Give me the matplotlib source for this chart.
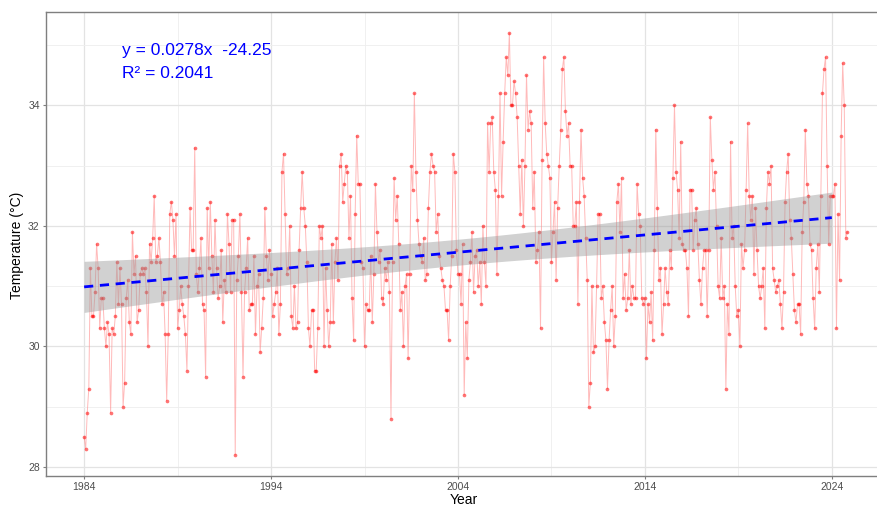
import matplotlib.pyplot as plt
import numpy as np

plt.rcParams['font.family'] = ['Liberation Sans', 'DejaVu Sans']

# monthly temperature, Jan 1984 onwards
temp_1984_1988 = [28.5, 28.3, 28.9, 29.3, 31.3, 30.5, 30.5, 30.9, 31.7, 31.3, 30.3, 30.8,
                  30.8, 30.3, 30.0, 30.4, 30.2, 28.9, 30.3, 30.2, 30.5, 31.4, 30.7, 31.3,
                  30.7, 29.0, 29.4, 30.8, 31.1, 30.4, 30.2, 31.9, 31.2, 31.5, 30.4, 30.6,
                  31.2, 31.3, 31.2, 31.3, 30.9, 30.0, 31.7, 31.4, 31.8, 32.5, 31.4, 31.5,
                  31.8, 31.4, 30.7, 30.9, 30.2, 29.1, 30.2, 32.2, 32.4, 32.1, 31.5, 32.2]
temp_1989_1993 = [30.3, 30.6, 31.0, 30.7, 30.5, 30.2, 29.6, 31.0, 32.3, 31.6, 31.6, 33.3,
                  31.2, 30.9, 31.3, 31.8, 30.7, 30.6, 29.5, 32.3, 31.3, 32.4, 31.5, 30.9,
                  32.1, 31.3, 30.8, 31.0, 31.6, 30.4, 31.1, 30.9, 32.2, 31.7, 30.9, 32.1,
                  32.1, 28.2, 31.1, 31.5, 32.2, 30.9, 29.5, 30.9, 31.3, 31.8, 30.6, 30.7,
                  30.7, 31.5, 30.2, 31.0, 31.2, 29.9, 30.3, 30.8, 32.3, 31.5, 31.1, 31.6]
temp_1994_1998 = [31.2, 30.5, 30.7, 30.9, 31.3, 30.2, 30.7, 32.9, 33.2, 32.2, 31.2, 31.3,
                  32.0, 30.5, 30.3, 31.0, 30.3, 30.4, 31.6, 32.3, 32.9, 32.3, 32.0, 31.4,
                  30.3, 30.0, 30.6, 30.6, 29.6, 29.6, 30.3, 32.0, 31.8, 32.0, 30.0, 31.3,
                  30.6, 30.0, 30.4, 31.7, 30.4, 31.4, 31.8, 31.1, 33.0, 33.2, 32.4, 32.7,
                  33.0, 32.9, 31.8, 32.5, 30.8, 30.1, 32.2, 33.5, 32.7, 32.7, 31.4, 31.3]
temp_1999_2003 = [30.0, 30.7, 30.6, 30.6, 31.5, 30.4, 31.2, 32.7, 31.9, 31.4, 31.6, 30.8,
                  30.7, 31.3, 31.1, 31.4, 30.9, 28.8, 31.4, 32.8, 32.1, 32.5, 31.7, 30.6,
                  30.9, 30.0, 31.0, 31.2, 29.8, 31.2, 33.0, 32.6, 34.2, 32.9, 32.1, 31.7,
                  31.5, 31.4, 31.8, 31.1, 31.2, 32.3, 32.9, 33.2, 33.0, 32.9, 31.9, 32.2,
                  31.5, 31.3, 31.1, 31.0, 30.6, 30.6, 30.1, 31.0, 31.5, 33.2, 32.9, 31.6]
temp_2004_2008 = [31.2, 31.2, 30.7, 31.7, 29.2, 30.4, 29.8, 31.1, 31.4, 31.9, 30.9, 31.5,
                  31.6, 31.0, 31.4, 30.7, 32.0, 31.4, 31.0, 33.7, 32.9, 33.7, 33.8, 32.9,
                  32.6, 31.2, 32.5, 34.2, 32.5, 33.4, 34.2, 34.8, 34.5, 35.2, 34.0, 34.0,
                  34.4, 34.2, 33.8, 33.0, 32.2, 33.1, 32.0, 33.0, 34.5, 33.6, 33.9, 33.7,
                  32.3, 32.9, 31.4, 31.6, 31.9, 30.3, 33.1, 34.8, 33.7, 33.2, 33.0, 32.8]
temp_2009_2013 = [31.4, 31.9, 32.4, 31.1, 32.3, 33.0, 33.6, 34.6, 34.8, 33.9, 33.5, 33.7,
                  33.0, 33.0, 32.0, 32.0, 32.4, 30.7, 32.4, 33.6, 32.8, 32.5, 31.8, 31.1,
                  29.0, 29.4, 31.0, 29.9, 30.0, 31.0, 32.2, 32.2, 30.8, 31.0, 30.4, 30.1,
                  29.3, 30.1, 30.6, 31.0, 30.0, 30.5, 32.4, 32.7, 31.9, 32.8, 30.8, 31.2,
                  30.6, 30.8, 31.6, 30.7, 31.0, 30.8, 30.8, 32.7, 32.2, 32.0, 30.8, 30.7]
temp_2014_2018 = [30.8, 29.8, 30.7, 30.4, 30.9, 30.1, 31.6, 33.6, 32.3, 31.1, 31.3, 30.2,
                  30.7, 31.3, 30.9, 30.7, 31.6, 31.3, 32.8, 34.0, 32.9, 32.6, 31.8, 33.4,
                  31.7, 31.6, 31.6, 31.3, 30.5, 32.6, 32.6, 31.6, 32.1, 32.3, 31.7, 31.1,
                  30.7, 31.3, 31.6, 31.6, 30.5, 31.6, 33.8, 33.1, 32.6, 32.9, 32.0, 31.0,
                  30.8, 31.8, 30.8, 31.0, 29.3, 30.7, 30.2, 33.4, 31.8, 32.0, 31.0, 30.5]
temp_2019_2024 = [30.6, 30.0, 31.7, 31.3, 31.6, 32.6, 33.7, 32.5, 32.1, 32.5, 31.2, 32.3,
                  31.6, 31.0, 30.8, 31.0, 31.3, 30.3, 32.3, 32.9, 32.7, 33.0, 31.3, 31.1,
                  30.9, 31.0, 31.1, 30.7, 30.3, 30.9, 32.4, 32.9, 33.2, 32.1, 31.8, 31.2,
                  30.6, 30.4, 30.7, 30.7, 30.2, 31.9, 32.4, 33.6, 32.7, 32.5, 31.7, 31.6,
                  30.8, 30.3, 31.3, 31.7, 30.9, 32.5, 34.2, 34.6, 34.8, 33.0, 31.7, 32.5,
                  32.5, 32.5, 32.7, 30.3, 32.2, 31.1, 33.5, 34.7, 34.0, 31.8, 31.9]

start_year = 1984
eq_text = "y = 0.0278x  -24.25"
r2_text = "R\u00b2 = 0.2041"

temps = np.array(temp_1984_1988 + temp_1989_1993 + temp_1994_1998 + temp_1999_2003
                 + temp_2004_2008 + temp_2009_2013 + temp_2014_2018 + temp_2019_2024)
idx = np.arange(len(temps))
t = start_year + idx / 12
year_of = start_year + idx // 12

# linear fit on the annual means, with 95% confidence band
years = np.unique(year_of)
annual = np.array([temps[year_of == y].mean() for y in years])
slope, intercept = np.polyfit(years, annual, 1)
n = len(years)
resid = annual - (intercept + slope * years)
s = np.sqrt(np.sum(resid ** 2) / (n - 2))
xg = np.linspace(years.min(), years.max(), 100)
yg = intercept + slope * xg
se = s * np.sqrt(1 / n + (xg - years.mean()) ** 2 / np.sum((years - years.mean()) ** 2))
t95 = 2.023

fig = plt.figure(figsize=(8.77, 5.08), dpi=100)
ax = fig.add_axes([46 / 877, 1 - 476 / 508, 840 / 877, 464 / 508])

ax.plot(t, temps, color='#ff8c8c', lw=0.7, alpha=0.6, zorder=2)
ax.scatter(t, temps, s=7, color='red', alpha=0.55, linewidths=0, zorder=3)
ax.fill_between(xg, yg - t95 * se, yg + t95 * se, color='#999999', alpha=0.45,
                lw=0, zorder=4)
ax.plot(xg, yg, color='blue', lw=2, ls=(0, (3.3, 2.4)), zorder=5)

ax.text(0.0905, 0.918, eq_text, transform=ax.transAxes, color='blue',
        fontsize=12.5, va='center', ha='left')
ax.text(0.0905, 0.868, r2_text, transform=ax.transAxes, color='blue',
        fontsize=12.5, va='center', ha='left')

ax.set_xlim(1981.96, 2026.9)
ax.set_ylim(27.85, 35.55)
ax.set_xticks(np.arange(1984, 2025, 10))
ax.set_xticks(np.arange(1989, 2027, 10), minor=True)
ax.set_yticks([28, 30, 32, 34])
ax.set_yticks([29, 31, 33, 35], minor=True)
ax.grid(which='major', color='#e3e3e3', lw=0.9)
ax.grid(which='minor', color='#eeeeee', lw=0.6)
ax.set_axisbelow(True)
ax.tick_params(which='major', length=2, color='#7f7f7f', labelcolor='#4d4d4d',
               labelsize=7.5, pad=2.5)
ax.tick_params(which='minor', length=0)
for sp in ax.spines.values():
    sp.set_color('#7f7f7f')
    sp.set_linewidth(1)

fig.text(17 / 877, 1 - 245 / 508, "Temperature (\u00b0C)", rotation=90,
         ha='center', va='center', fontsize=10)
fig.text(464 / 877, 0.5 / 508, "Year", ha='center', va='bottom', fontsize=10)

fig.savefig("out.png", dpi=100)
